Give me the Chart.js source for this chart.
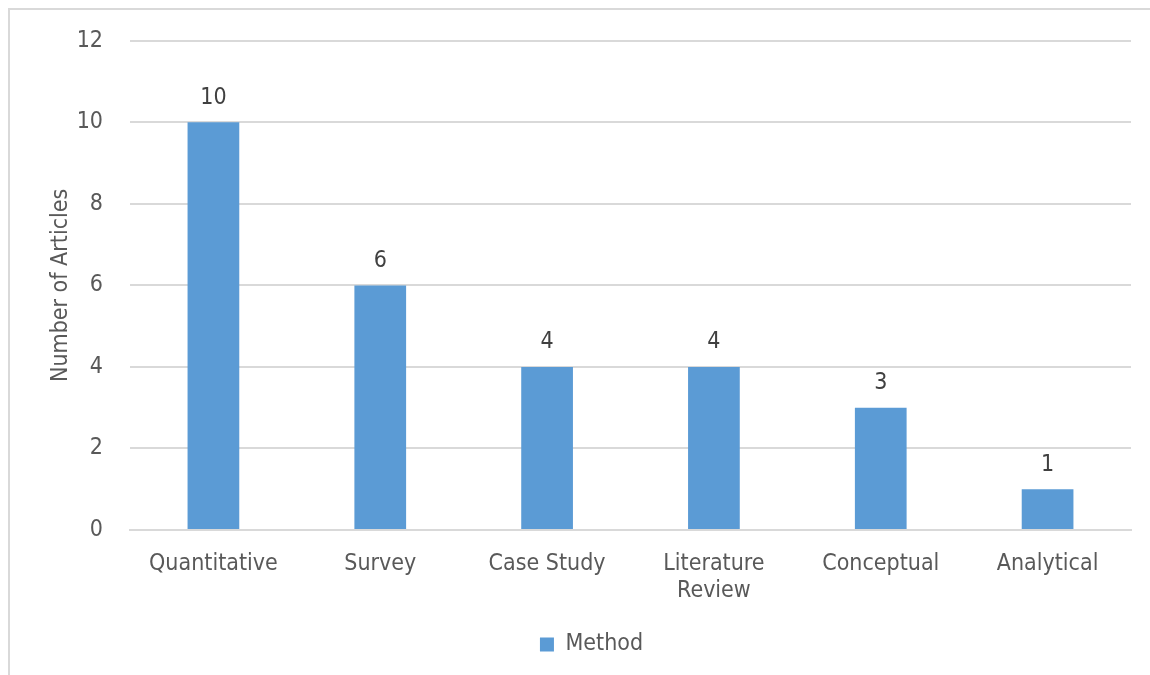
<!DOCTYPE html>
<html>
<head>
<meta charset="utf-8">
<script src="https://cdn.jsdelivr.net/npm/chart.js@4.4.0/dist/chart.umd.min.js"></script>
<style>
  body { margin: 0; background: #fff; }
  #frame { position: absolute; left: 8px; top: 8px; width: 1150px; height: 675px;
           border-top: 2px solid #d9d9d9; border-left: 2px solid #d9d9d9; }
  #wrap { position: absolute; left: 0; top: 0; width: 1150px; height: 675px; }
</style>
</head>
<body>
<div id="frame"></div>
<div id="wrap"><canvas id="chart" width="1150" height="675"></canvas></div>
<script>
var methods = ['Quantitative', 'Survey', 'Case Study', ['Literature', 'Review'], 'Conceptual', 'Analytical'];
var articles = [10, 6, 4, 4, 3, 1];
var yTicks = [0, 2, 4, 6, 8, 10, 12];

var fontFamily = "'DejaVu Sans Condensed', 'DejaVu Sans', sans-serif";
var textColor = '#595959';
var fontSize = 23;

// values above the bars
var barLabels = {
	id: 'barLabels',
	beforeDraw: function(chart) {
		// legend sits a little right of centre in the original
		if (chart.legend && !chart.legend._moved) {
			chart.legend.left += 26;
			chart.legend.right += 26;
			chart.legend._moved = true;
		}
	},
	afterDatasetsDraw: function(chart) {
		var ctx = chart.ctx;
		var meta = chart.getDatasetMeta(0);
		ctx.save();
		ctx.font = fontSize + 'px ' + fontFamily;
		ctx.fillStyle = '#404040';
		ctx.textAlign = 'center';
		ctx.textBaseline = 'bottom';
		meta.data.forEach(function(bar, i) {
			ctx.fillText(String(chart.data.datasets[0].data[i]), bar.x, bar.y - 13);
		});
		ctx.restore();
	}
};

var ctx = document.getElementById('chart');

var barGraph = new Chart(ctx, {
	type: 'bar',
	data: {
		labels: methods,
		datasets: [{
			label: 'Method',
			data: articles,
			backgroundColor: '#5B9BD5',
			borderWidth: 0,
			categoryPercentage: 1.0,
			barPercentage: 0.31
		}]
	},
	options: {
		responsive: false,
		animation: false,
		devicePixelRatio: 1,
		layout: { padding: { top: 38, right: 19, bottom: 9, left: 0 } },
		plugins: {
			tooltip: { enabled: false },
			legend: {
				position: 'bottom',
				labels: {
					color: textColor,
					font: { family: fontFamily, size: fontSize },
					boxWidth: 14,
					boxHeight: 14,
					padding: 10
				}
			}
		},
		scales: {
			x: {
				grid: { display: false, drawTicks: false },
				border: { color: '#d9d9d9', width: 2 },
				ticks: { color: textColor, font: { family: fontFamily, size: fontSize }, padding: 20, maxRotation: 0 },
				afterFit: function(scale) { scale.height = 93; }
			},
			y: {
				min: 0,
				max: 12,
				afterBuildTicks: function(scale) {
					scale.ticks = yTicks.map(function(v) { return { value: v }; });
				},
				grid: { color: '#d9d9d9', lineWidth: 2, drawTicks: false },
				border: { display: false },
				ticks: { color: textColor, font: { family: fontFamily, size: fontSize }, padding: 27 },
				title: {
					display: true,
					text: 'Number of Articles',
					color: textColor,
					font: { family: fontFamily, size: fontSize },
					padding: { top: 47, bottom: 0 }
				},
				afterFit: function(scale) { scale.width = 130; }
			}
		}
	},
	plugins: [barLabels]
});
</script>
</body>
</html>
